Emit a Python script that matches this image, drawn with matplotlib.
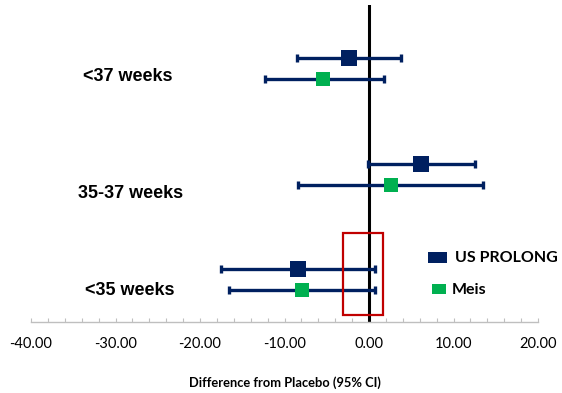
import matplotlib
matplotlib.use("Agg")
import matplotlib.pyplot as plt
from matplotlib.patches import Rectangle
from matplotlib.ticker import MultipleLocator

# ---- data -------------------------------------------------------------------
groups = ["<37 weeks", "35-37 weeks", "<35 weeks"]
series = ["US PROLONG", "Meis"]

prolong_est = [-2.4, 6.2, -8.4]
prolong_lo = [-8.5, -0.1, -17.5]
prolong_hi = [3.8, 12.6, 0.7]

meis_est = [-5.4, 2.6, -7.9]
meis_lo = [-12.3, -8.4, -16.6]
meis_hi = [1.8, 13.5, 0.7]

NAVY = "#002060"
GREEN = "#00B050"
RED = "#C00000"

# ---- figure -------------------------------------------------------------------
W, H = 562, 393
fig = plt.figure(figsize=(W / 100, H / 100), dpi=100)
# axes span x = -40..20, y = 0..15 in pixel box (31,5)-(538,322)
ax = fig.add_axes([31 / W, (H - 322) / H, 507 / W, 317 / H])
ax.set_xlim(-40, 20)
ax.set_ylim(0, 15)

centers = [12, 7, 2]
label_y = [11.6, 6.1, 1.5]
label_x = [-33.8, -34.4, -33.6]

for est, lo, hi, dy, color, ms in [
    (prolong_est, prolong_lo, prolong_hi, 0.5, NAVY, 11),
    (meis_est, meis_lo, meis_hi, -0.5, GREEN, 10.5),
]:
    ys = [c + dy for c in centers]
    xerr = [[e - l for e, l in zip(est, lo)], [h - e for e, h in zip(est, hi)]]
    ax.errorbar(est, ys, xerr=xerr, fmt="none", ecolor=NAVY, elinewidth=2.4,
                capsize=2.6, capthick=2.4, zorder=3)
    ax.plot(est, ys, "s", color=color, markersize=ms, markeredgewidth=0, zorder=4)

ax.axvline(0, ymin=0, ymax=1, color="black", linewidth=2.2, zorder=2)
ax.add_patch(Rectangle((-3.1, 0.33), 4.75, 3.88, fill=False, edgecolor=RED,
                       linewidth=1.6, zorder=5))

for g, x, y in zip(groups, label_x, label_y):
    ax.text(x, y, g, ha="left", va="center", fontsize=13, fontweight="bold",
            family="Liberation Sans", color="black")

# axis styling
for s in ["top", "right", "left"]:
    ax.spines[s].set_visible(False)
ax.spines["bottom"].set_color("#BFBFBF")
ax.spines["bottom"].set_linewidth(1)
ax.set_yticks([])
ax.xaxis.set_major_locator(MultipleLocator(10))
ax.xaxis.set_minor_locator(MultipleLocator(2))
ax.tick_params(axis="x", which="both", direction="in", color="#BFBFBF",
               length=3, width=0.8, pad=11, labelsize=10.5, labelcolor="black")
ax.set_xticks(range(-40, 21, 10))
ax.set_xticklabels([f"{v:.2f}" for v in range(-40, 21, 10)], family="Lato")
ax.set_xlabel("Difference from Placebo (95% CI)", fontsize=9.3, fontweight="bold",
              family="Lato", labelpad=18)

# legend drawn in figure pixels
def px(x, y):
    return x / W, 1 - y / H

fig.add_artist(Rectangle(px(428, 263), 19 / W, 11 / H, transform=fig.transFigure,
                         facecolor=NAVY, edgecolor="none"))
fig.add_artist(Rectangle(px(432, 294), 14 / W, 10 / H, transform=fig.transFigure,
                         facecolor=GREEN, edgecolor="none"))
fig.text(*px(455, 258), series[0], ha="left", va="center", fontsize=11.5,
         fontweight="bold", family="Lato")
fig.text(*px(452, 290), series[1], ha="left", va="center", fontsize=11.5,
         fontweight="bold", family="Lato")

fig.savefig("out.png", dpi=100)
